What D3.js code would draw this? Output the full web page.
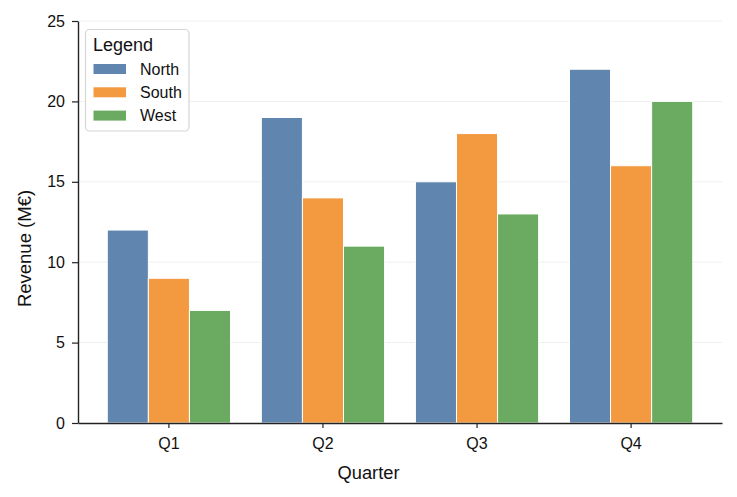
<!DOCTYPE html>
<html>
<head>
<meta charset="utf-8">
<script src="https://cdn.jsdelivr.net/npm/d3@7"></script>
<style>
  body { margin: 0; background: #fff; }
  svg { font-family: "Liberation Sans", Arial, sans-serif; }
</style>
</head>
<body>
<svg id="chart" width="737" height="497"></svg>
<script>
  const quarters = ["Q1", "Q2", "Q3", "Q4"];
  const regions = ["North", "South", "West"];
  const northValues = [12, 19, 15, 22];
  const southValues = [9, 14, 18, 16];
  const westValues = [7, 11, 13, 20];
  const yTicks = [0, 5, 10, 15, 20, 25];

  const seriesValues = [northValues, southValues, westValues];
  const colors = ["#6086b0", "#f39a40", "#6aaa61"];

  const width = 737, height = 497;
  const margin = { top: 21, right: 15, bottom: 74, left: 78 };

  const svg = d3.select("#chart");

  const x = d3.scaleBand()
    .domain(quarters)
    .range([margin.left, width - margin.right])
    .paddingInner(0.2)
    .paddingOuter(0.19);

  const xSub = d3.scaleBand()
    .domain(regions)
    .range([0, x.bandwidth()]);

  const y = d3.scaleLinear()
    .domain([0, 25])
    .range([height - margin.bottom, margin.top]);

  // grid
  svg.append("g")
    .selectAll("line")
    .data(yTicks.filter(d => d > 0))
    .join("line")
    .attr("x1", margin.left)
    .attr("x2", width - margin.right)
    .attr("y1", d => y(d))
    .attr("y2", d => y(d))
    .attr("stroke", "#efefef")
    .attr("stroke-width", 1);

  // bars
  const rows = quarters.flatMap((q, i) =>
    regions.map((r, j) => ({ q, r, j, value: seriesValues[j][i] })));

  svg.append("g")
    .selectAll("rect")
    .data(rows)
    .join("rect")
    .attr("x", d => x(d.q) + xSub(d.r))
    .attr("y", d => y(d.value))
    .attr("width", xSub.bandwidth())
    .attr("height", d => y(0) - y(d.value))
    .attr("fill", d => colors[d.j])
    .attr("stroke", "#fff")
    .attr("stroke-width", 1);

  // axes
  const xAxis = svg.append("g")
    .attr("transform", `translate(0,${y(0)})`)
    .call(d3.axisBottom(x).tickSize(5).tickPadding(10).tickSizeOuter(0));

  const yAxis = svg.append("g")
    .attr("transform", `translate(${margin.left},0)`)
    .call(d3.axisLeft(y).tickValues(yTicks).tickSize(6).tickPadding(7).tickSizeOuter(0));

  [xAxis, yAxis].forEach(ax => {
    ax.select(".domain").attr("stroke", "#222").attr("stroke-width", 1.4);
    ax.selectAll(".tick line").attr("stroke", "#222").attr("stroke-width", 1.2);
    ax.selectAll(".tick text")
      .attr("fill", "#111")
      .style("font-size", "16px")
      .style("font-family", "Liberation Sans, Arial, sans-serif");
  });

  // axis labels (centred on the figure)
  svg.append("text")
    .attr("x", width / 2)
    .attr("y", 479)
    .attr("text-anchor", "middle")
    .style("font-size", "18.3px")
    .attr("fill", "#111")
    .text("Quarter");

  svg.append("text")
    .attr("transform", `translate(31,${height / 2}) rotate(-90)`)
    .attr("text-anchor", "middle")
    .style("font-size", "18.5px")
    .attr("fill", "#111")
    .text("Revenue (M€)");

  // legend
  const legend = svg.append("g");
  legend.append("rect")
    .attr("x", 85.5)
    .attr("y", 29.5)
    .attr("width", 103.5)
    .attr("height", 101.5)
    .attr("rx", 4)
    .attr("fill", "#fff")
    .attr("fill-opacity", 0.85)
    .attr("stroke", "#d6d6d6")
    .attr("stroke-width", 1.2);

  legend.append("text")
    .attr("x", 93)
    .attr("y", 50.5)
    .style("font-size", "18px")
    .attr("fill", "#111")
    .text("Legend");

  const items = legend.selectAll("g.item")
    .data(regions)
    .join("g")
    .attr("class", "item")
    .attr("transform", (d, i) => `translate(0,${69 + i * 23.3})`);

  items.append("rect")
    .attr("x", 93.5)
    .attr("y", -5)
    .attr("width", 32.5)
    .attr("height", 10)
    .attr("fill", (d, i) => colors[i]);

  items.append("text")
    .attr("x", 140)
    .attr("y", 5.8)
    .style("font-size", "16px")
    .attr("fill", "#111")
    .text(d => d);
</script>
</body>
</html>
